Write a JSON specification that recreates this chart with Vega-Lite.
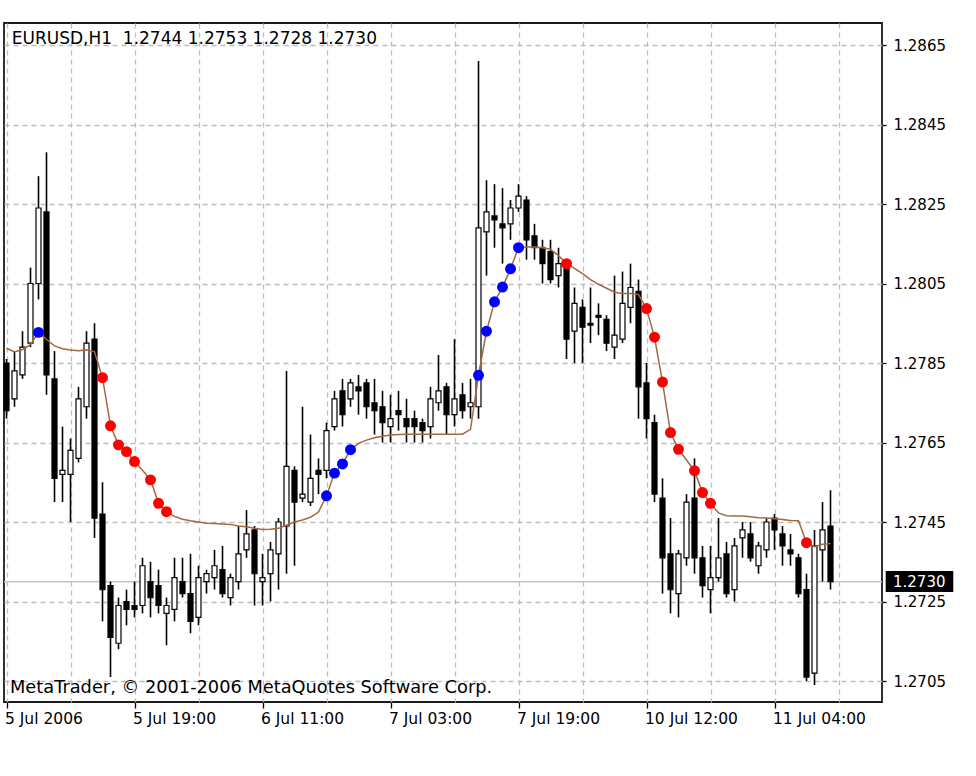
{
 "$schema": "https://vega.github.io/schema/vega-lite/v6.json",
 "width": 878,
 "height": 679,
 "autosize": {"type": "none"},
 "padding": {"left": 4, "top": 23, "right": 94, "bottom": 74},
 "background": "white",
 "config": {"view": {"stroke": "#1a1a1a", "strokeWidth": 1.8}, "font": "DejaVu Sans"},
 "resolve": {"axis": {"x": "independent", "y": "independent"}},
 "datasets": {
  "bars": [
   {"i":0,"o":1.2785,"h":1.2786,"l":1.2771,"c":1.2773,"t":1.27887},
   {"i":1,"o":1.2776,"h":1.2788,"l":1.2774,"c":1.2783,"t":1.27878},
   {"i":2,"o":1.2782,"h":1.2793,"l":1.2781,"c":1.2789,"t":1.27884},
   {"i":3,"o":1.2790,"h":1.2809,"l":1.2789,"c":1.2805,"t":1.27896},
   {"i":4,"o":1.2805,"h":1.2832,"l":1.2801,"c":1.2824,"t":1.27927,"s":"b"},
   {"i":5,"o":1.2823,"h":1.2838,"l":1.2777,"c":1.2782,"t":1.27909},
   {"i":6,"o":1.2781,"h":1.2788,"l":1.2750,"c":1.2756,"t":1.27893},
   {"i":7,"o":1.2757,"h":1.2769,"l":1.2750,"c":1.2758,"t":1.27886},
   {"i":8,"o":1.2757,"h":1.2766,"l":1.2745,"c":1.2763,"t":1.27883},
   {"i":9,"o":1.2761,"h":1.2779,"l":1.2760,"c":1.2776,"t":1.27881},
   {"i":10,"o":1.2774,"h":1.2793,"l":1.2771,"c":1.2790,"t":1.27883},
   {"i":11,"o":1.2791,"h":1.2795,"l":1.2741,"c":1.2746,"t":1.27878},
   {"i":12,"o":1.2747,"h":1.2755,"l":1.2720,"c":1.2728,"t":1.27813,"s":"r"},
   {"i":13,"o":1.2729,"h":1.2730,"l":1.2706,"c":1.2716,"t":1.27692,"s":"r"},
   {"i":14,"o":1.27145,"h":1.2726,"l":1.2713,"c":1.2724,"t":1.27644,"s":"r"},
   {"i":15,"o":1.2725,"h":1.2728,"l":1.2719,"c":1.2723,"t":1.27627,"s":"r"},
   {"i":16,"o":1.2724,"h":1.2730,"l":1.2721,"c":1.2723,"t":1.27602,"s":"r"},
   {"i":17,"o":1.2724,"h":1.2736,"l":1.2722,"c":1.2734,"t":1.2758},
   {"i":18,"o":1.2730,"h":1.2735,"l":1.2721,"c":1.2726,"t":1.27556,"s":"r"},
   {"i":19,"o":1.2729,"h":1.2733,"l":1.2722,"c":1.2724,"t":1.27497,"s":"r"},
   {"i":20,"o":1.2722,"h":1.2726,"l":1.2714,"c":1.2724,"t":1.27476,"s":"r"},
   {"i":21,"o":1.2723,"h":1.2736,"l":1.2720,"c":1.2731,"t":1.27464},
   {"i":22,"o":1.2730,"h":1.2736,"l":1.2726,"c":1.2727,"t":1.27457},
   {"i":23,"o":1.2727,"h":1.2737,"l":1.2717,"c":1.2720,"t":1.27453},
   {"i":24,"o":1.2721,"h":1.2734,"l":1.2719,"c":1.2731,"t":1.2745},
   {"i":25,"o":1.2730,"h":1.2733,"l":1.2727,"c":1.2732,"t":1.27447},
   {"i":26,"o":1.2731,"h":1.2738,"l":1.2728,"c":1.2734,"t":1.27446},
   {"i":27,"o":1.2733,"h":1.2739,"l":1.2726,"c":1.2727,"t":1.27445},
   {"i":28,"o":1.2726,"h":1.2732,"l":1.2724,"c":1.2731,"t":1.27444},
   {"i":29,"o":1.2730,"h":1.2744,"l":1.2728,"c":1.2737,"t":1.2744},
   {"i":30,"o":1.2738,"h":1.2748,"l":1.2736,"c":1.2742,"t":1.27438},
   {"i":31,"o":1.2743,"h":1.2744,"l":1.2724,"c":1.2732,"t":1.27434},
   {"i":32,"o":1.2730,"h":1.2737,"l":1.2724,"c":1.2731,"t":1.27431},
   {"i":33,"o":1.2732,"h":1.2740,"l":1.2725,"c":1.2738,"t":1.27432},
   {"i":34,"o":1.2737,"h":1.2746,"l":1.2728,"c":1.2745,"t":1.27434},
   {"i":35,"o":1.2744,"h":1.2783,"l":1.2732,"c":1.2759,"t":1.27442},
   {"i":36,"o":1.2758,"h":1.2759,"l":1.2734,"c":1.2750,"t":1.2745},
   {"i":37,"o":1.2751,"h":1.2774,"l":1.2750,"c":1.2752,"t":1.27455},
   {"i":38,"o":1.2750,"h":1.2767,"l":1.2749,"c":1.2756,"t":1.27462},
   {"i":39,"o":1.2758,"h":1.2761,"l":1.2752,"c":1.2757,"t":1.27475},
   {"i":40,"o":1.2758,"h":1.2770,"l":1.2756,"c":1.2768,"t":1.27516,"s":"b"},
   {"i":41,"o":1.2769,"h":1.2778,"l":1.2768,"c":1.2776,"t":1.27573,"s":"b"},
   {"i":42,"o":1.2778,"h":1.2781,"l":1.2769,"c":1.2772,"t":1.27596,"s":"b"},
   {"i":43,"o":1.2776,"h":1.2781,"l":1.2774,"c":1.2780,"t":1.27632,"s":"b"},
   {"i":44,"o":1.2779,"h":1.2782,"l":1.2772,"c":1.2778,"t":1.27648},
   {"i":45,"o":1.2780,"h":1.2781,"l":1.2771,"c":1.2774,"t":1.27656},
   {"i":46,"o":1.2775,"h":1.2781,"l":1.2767,"c":1.2773,"t":1.27662},
   {"i":47,"o":1.2774,"h":1.2778,"l":1.2765,"c":1.2770,"t":1.27666},
   {"i":48,"o":1.2769,"h":1.2777,"l":1.2765,"c":1.2771,"t":1.27669},
   {"i":49,"o":1.2773,"h":1.2778,"l":1.2768,"c":1.2772,"t":1.2767},
   {"i":50,"o":1.2771,"h":1.2776,"l":1.2765,"c":1.2769,"t":1.27671},
   {"i":51,"o":1.2771,"h":1.2773,"l":1.2765,"c":1.2769,"t":1.27671},
   {"i":52,"o":1.2770,"h":1.2771,"l":1.2765,"c":1.2768,"t":1.27671},
   {"i":53,"o":1.2769,"h":1.2779,"l":1.2766,"c":1.2776,"t":1.27671},
   {"i":54,"o":1.2775,"h":1.2787,"l":1.2773,"c":1.2778,"t":1.27671},
   {"i":55,"o":1.2779,"h":1.2780,"l":1.2767,"c":1.2772,"t":1.27671},
   {"i":56,"o":1.2772,"h":1.2791,"l":1.2769,"c":1.2776,"t":1.27671},
   {"i":57,"o":1.2777,"h":1.2780,"l":1.2771,"c":1.2773,"t":1.27671},
   {"i":58,"o":1.2774,"h":1.2781,"l":1.2771,"c":1.2775,"t":1.27683},
   {"i":59,"o":1.2774,"h":1.2861,"l":1.2771,"c":1.2819,"t":1.27819,"s":"b"},
   {"i":60,"o":1.2818,"h":1.2831,"l":1.2807,"c":1.2823,"t":1.2793,"s":"b"},
   {"i":61,"o":1.2822,"h":1.2830,"l":1.2814,"c":1.2821,"t":1.28004,"s":"b"},
   {"i":62,"o":1.2820,"h":1.2829,"l":1.2810,"c":1.2819,"t":1.28041,"s":"b"},
   {"i":63,"o":1.2820,"h":1.2826,"l":1.2816,"c":1.2824,"t":1.28087,"s":"b"},
   {"i":64,"o":1.2824,"h":1.2830,"l":1.2823,"c":1.2827,"t":1.2814,"s":"b"},
   {"i":65,"o":1.2826,"h":1.2827,"l":1.2811,"c":1.2816,"t":1.28142},
   {"i":66,"o":1.2817,"h":1.2820,"l":1.2811,"c":1.2814,"t":1.28142},
   {"i":67,"o":1.2814,"h":1.2816,"l":1.2805,"c":1.2810,"t":1.2814},
   {"i":68,"o":1.2813,"h":1.2816,"l":1.2805,"c":1.2806,"t":1.28136},
   {"i":69,"o":1.2807,"h":1.2814,"l":1.2804,"c":1.2810,"t":1.2812},
   {"i":70,"o":1.2809,"h":1.2810,"l":1.2786,"c":1.2791,"t":1.281,"s":"r"},
   {"i":71,"o":1.2793,"h":1.2804,"l":1.2785,"c":1.2800,"t":1.28088},
   {"i":72,"o":1.2799,"h":1.2801,"l":1.2785,"c":1.2794,"t":1.28075},
   {"i":73,"o":1.2795,"h":1.2804,"l":1.2790,"c":1.27945,"t":1.2806},
   {"i":74,"o":1.2797,"h":1.2800,"l":1.2792,"c":1.27965,"t":1.28048},
   {"i":75,"o":1.2796,"h":1.2797,"l":1.2788,"c":1.2790,"t":1.28038},
   {"i":76,"o":1.2789,"h":1.2807,"l":1.2786,"c":1.2792,"t":1.28028},
   {"i":77,"o":1.2791,"h":1.2808,"l":1.2790,"c":1.2800,"t":1.28025},
   {"i":78,"o":1.2799,"h":1.2810,"l":1.2795,"c":1.2804,"t":1.28025},
   {"i":79,"o":1.2803,"h":1.2806,"l":1.2771,"c":1.2779,"t":1.28022},
   {"i":80,"o":1.2780,"h":1.2785,"l":1.2766,"c":1.2771,"t":1.27987,"s":"r"},
   {"i":81,"o":1.2770,"h":1.2772,"l":1.2750,"c":1.2752,"t":1.27915,"s":"r"},
   {"i":82,"o":1.2751,"h":1.2756,"l":1.2727,"c":1.2736,"t":1.27802,"s":"r"},
   {"i":83,"o":1.2737,"h":1.2746,"l":1.2722,"c":1.2728,"t":1.27675,"s":"r"},
   {"i":84,"o":1.2727,"h":1.2738,"l":1.2721,"c":1.2737,"t":1.27633,"s":"r"},
   {"i":85,"o":1.2736,"h":1.2752,"l":1.2734,"c":1.2750,"t":1.27606},
   {"i":86,"o":1.2751,"h":1.2761,"l":1.2732,"c":1.2736,"t":1.27579,"s":"r"},
   {"i":87,"o":1.2736,"h":1.2739,"l":1.2726,"c":1.2729,"t":1.27524,"s":"r"},
   {"i":88,"o":1.2728,"h":1.2739,"l":1.2722,"c":1.2731,"t":1.27497,"s":"r"},
   {"i":89,"o":1.2731,"h":1.2746,"l":1.2730,"c":1.2736,"t":1.27473},
   {"i":90,"o":1.2737,"h":1.2740,"l":1.2726,"c":1.2727,"t":1.27466},
   {"i":91,"o":1.2728,"h":1.2741,"l":1.2725,"c":1.2739,"t":1.27465},
   {"i":92,"o":1.2741,"h":1.2745,"l":1.2736,"c":1.2743,"t":1.27465},
   {"i":93,"o":1.2742,"h":1.2745,"l":1.2735,"c":1.2736,"t":1.27463},
   {"i":94,"o":1.2734,"h":1.2740,"l":1.2732,"c":1.2739,"t":1.27461},
   {"i":95,"o":1.2738,"h":1.2746,"l":1.2736,"c":1.2745,"t":1.2746},
   {"i":96,"o":1.2746,"h":1.2747,"l":1.2738,"c":1.2743,"t":1.27458},
   {"i":97,"o":1.2742,"h":1.2744,"l":1.2734,"c":1.2739,"t":1.27456},
   {"i":98,"o":1.2738,"h":1.2742,"l":1.2734,"c":1.2737,"t":1.27454},
   {"i":99,"o":1.2736,"h":1.2737,"l":1.2726,"c":1.2727,"t":1.27453},
   {"i":100,"o":1.2728,"h":1.2732,"l":1.2705,"c":1.2706,"t":1.27398,"s":"r"},
   {"i":101,"o":1.2707,"h":1.2743,"l":1.2704,"c":1.2739,"t":1.27388},
   {"i":102,"o":1.2738,"h":1.2750,"l":1.2730,"c":1.2743,"t":1.27394},
   {"i":103,"o":1.2744,"h":1.2753,"l":1.2728,"c":1.2730,"t":1.27396}
  ],
  "last": [{"price": 1.273, "label": "1.2730"}]
 },
 "layer": [
  {
   "data": {"name": "last"},
   "mark": {"type": "rule", "color": "#c4c4c4", "strokeWidth": 1.5},
   "encoding": {
    "y": {"field": "price", "type": "quantitative",
     "scale": {"domain": [1.2699717, 1.2870535], "nice": false, "zero": false, "padding": 0},
     "axis": {"orient": "right", "values": [1.2705, 1.2725, 1.2745, 1.2765, 1.2785, 1.2805, 1.2825, 1.2845, 1.2865],
      "format": ".4f", "title": null, "domain": false, "labelFontSize": 15, "labelColor": "black",
      "tickSize": 4, "tickColor": "black", "tickWidth": 1.3, "labelPadding": 7,
      "grid": true, "gridColor": "#bdbdbd", "gridDash": [5, 4], "gridWidth": 1.3}}
   }
  },
  {
   "data": {"name": "bars"},
   "mark": {"type": "rule", "color": "black", "strokeWidth": 1.6},
   "encoding": {
    "x": {"field": "i", "type": "quantitative",
     "scale": {"domain": [-0.3125, 109.4375], "nice": false, "zero": false, "padding": 0},
     "axis": {"values": [0, 8, 16, 24, 32, 40, 48, 56, 64, 72, 80, 88, 96, 104],
      "labelExpr": "datum.value==0?'5 Jul 2006':datum.value==16?'5 Jul 19:00':datum.value==32?'6 Jul 11:00':datum.value==48?'7 Jul 03:00':datum.value==64?'7 Jul 19:00':datum.value==80?'10 Jul 12:00':datum.value==96?'11 Jul 04:00':''",
      "labelAlign": "left", "labelBaseline": "top", "labelFontSize": 15.5, "labelColor": "black",
      "labelPadding": 3, "labelOffset": -2, "labelOverlap": false, "labelBound": false, "labelFlush": false,
      "tickSize": 6, "tickWidth": 1.3,
      "tickColor": {"condition": {"test": "datum.value % 16 === 0", "value": "black"}, "value": "transparent"},
      "grid": true, "gridColor": "#bdbdbd", "gridDash": [5, 4], "gridWidth": 1.3,
      "domain": false, "title": null}},
    "y": {"field": "l", "type": "quantitative", "scale": {"domain": [1.2699717, 1.2870535], "nice": false, "zero": false, "padding": 0}, "axis": null},
    "y2": {"field": "h"}
   }
  },
  {
   "data": {"name": "bars"},
   "mark": {"type": "bar", "width": 5, "stroke": "black", "strokeWidth": 1.2},
   "encoding": {
    "x": {"field": "i", "type": "quantitative", "scale": {"domain": [-0.3125, 109.4375], "nice": false, "zero": false, "padding": 0}, "axis": null},
    "y": {"field": "o", "type": "quantitative", "scale": {"domain": [1.2699717, 1.2870535], "nice": false, "zero": false, "padding": 0}, "axis": null},
    "y2": {"field": "c"},
    "fill": {"condition": {"test": "datum.c >= datum.o", "value": "white"}, "value": "black"}
   }
  },
  {
   "data": {"name": "bars"},
   "mark": {"type": "line", "color": "#a4673f", "strokeWidth": 1.5},
   "encoding": {
    "x": {"field": "i", "type": "quantitative", "scale": {"domain": [-0.3125, 109.4375], "nice": false, "zero": false, "padding": 0}, "axis": null},
    "y": {"field": "t", "type": "quantitative", "scale": {"domain": [1.2699717, 1.2870535], "nice": false, "zero": false, "padding": 0}, "axis": null}
   }
  },
  {
   "data": {"name": "bars"},
   "transform": [{"filter": "isValid(datum.s)"}],
   "mark": {"type": "circle", "size": 120, "opacity": 1},
   "encoding": {
    "x": {"field": "i", "type": "quantitative", "scale": {"domain": [-0.3125, 109.4375], "nice": false, "zero": false, "padding": 0}, "axis": null},
    "y": {"field": "t", "type": "quantitative", "scale": {"domain": [1.2699717, 1.2870535], "nice": false, "zero": false, "padding": 0}, "axis": null},
    "color": {"field": "s", "type": "nominal", "scale": {"domain": ["b", "r"], "range": ["#0000ff", "#ff0000"]}, "legend": null}
   }
  },
  {
   "data": {"name": "last"},
   "mark": {"type": "rect", "color": "black"},
   "encoding": {
    "x": {"datum": 109.9, "type": "quantitative", "axis": null},
    "x2": {"datum": 118.35},
    "y": {"datum": 1.273267, "type": "quantitative", "axis": null},
    "y2": {"datum": 1.272739}
   }
  },
  {
   "data": {"name": "last"},
   "mark": {"type": "text", "color": "white", "align": "left", "baseline": "middle", "fontSize": 15},
   "encoding": {
    "x": {"datum": 110.81, "type": "quantitative", "axis": null},
    "y": {"field": "price", "type": "quantitative", "axis": null},
    "text": {"field": "label"}
   }
  },
  {
   "data": {"values": [{"txt": "EURUSD,H1\u00a0 1.2744 1.2753 1.2728 1.2730"}]},
   "mark": {"type": "text", "color": "black", "align": "left", "baseline": "middle", "fontSize": 17},
   "encoding": {
    "x": {"datum": 0.65, "type": "quantitative", "axis": null},
    "y": {"datum": 1.286651, "type": "quantitative", "axis": null},
    "text": {"field": "txt"}
   }
  },
  {
   "data": {"values": [{"txt": "MetaTrader, © 2001-2006 MetaQuotes Software Corp."}]},
   "mark": {"type": "text", "color": "black", "align": "left", "baseline": "middle", "fontSize": 17.8},
   "encoding": {
    "x": {"datum": 0.4375, "type": "quantitative", "axis": null},
    "y": {"datum": 1.270324, "type": "quantitative", "axis": null},
    "text": {"field": "txt"}
   }
  }
 ]
}
